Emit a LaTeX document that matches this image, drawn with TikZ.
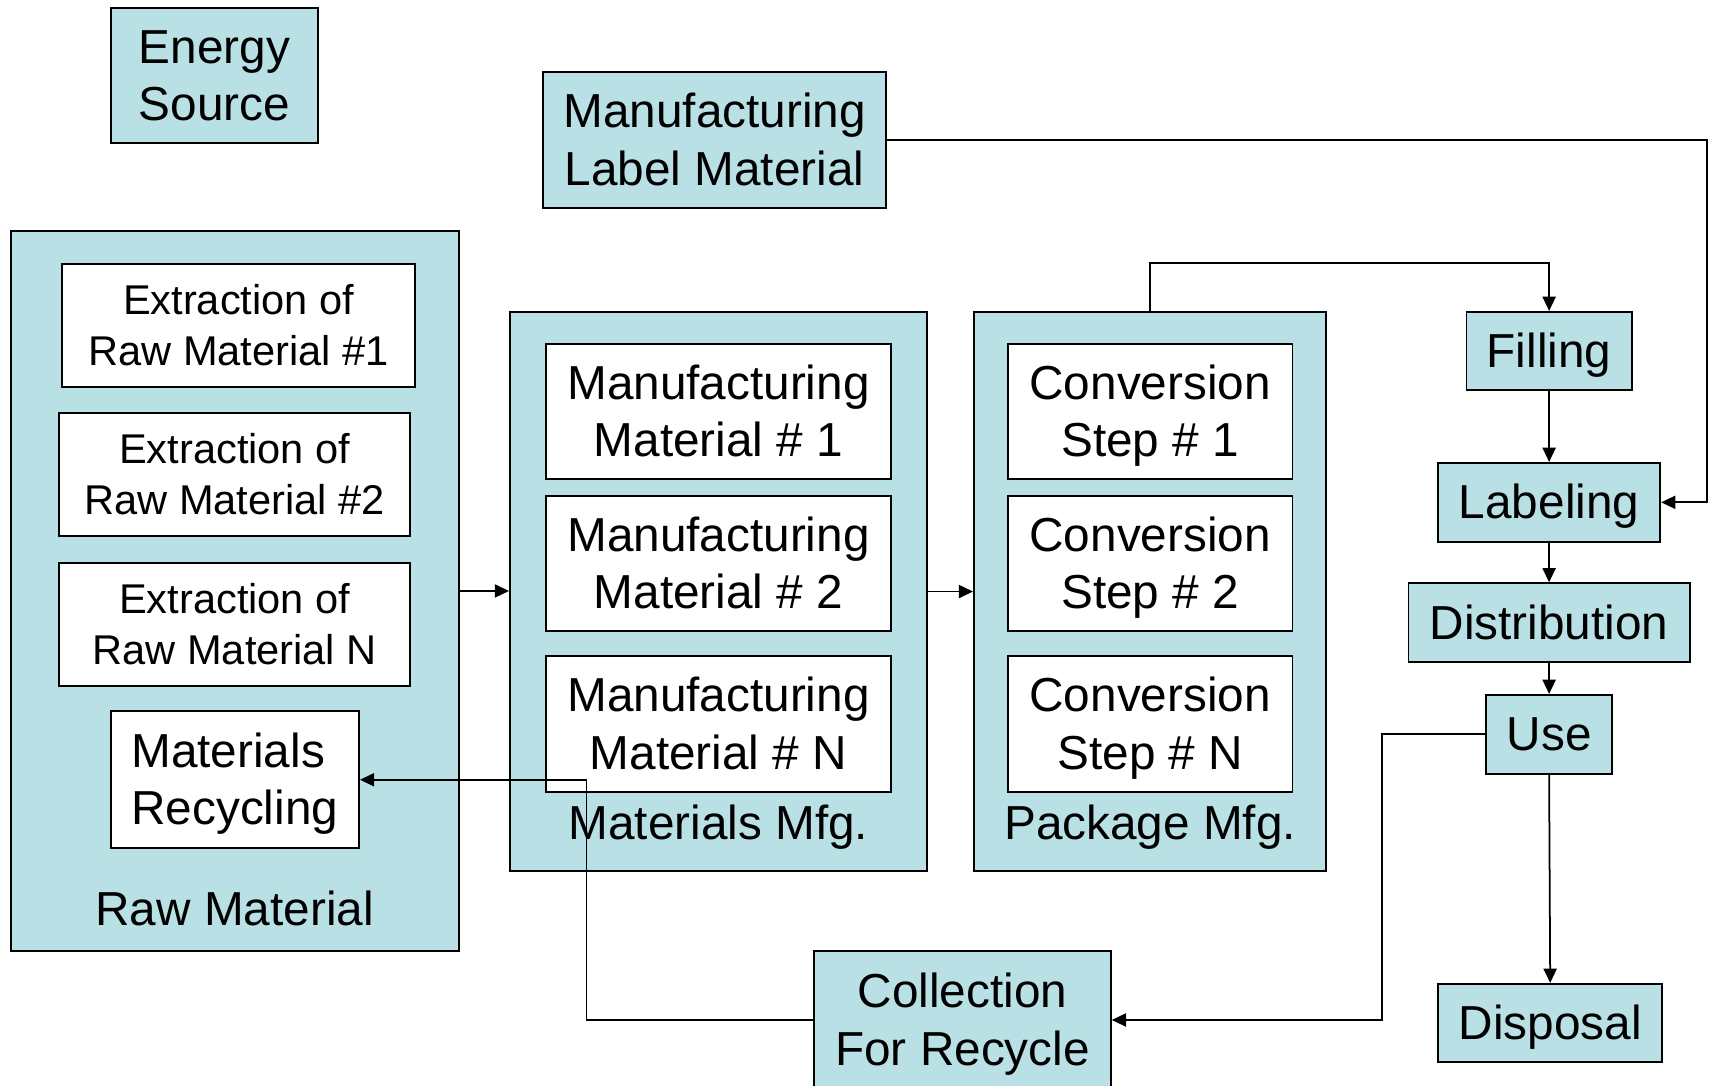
\documentclass[tikz,border=0pt]{standalone}
\usepackage{fontspec}
\setmainfont{Liberation Sans}
\usetikzlibrary{arrows.meta}
\definecolor{pale}{RGB}{185,224,228}
\newcommand\st{\rule[-0.212em]{0pt}{1.117em}}
\tikzset{
  bigfont/.style={font=\fontsize{43.6}{52.3}\selectfont},
  smallfont/.style={font=\fontsize{38}{47}\selectfont},
  bluebox/.style={draw=black, line width=1.8pt, fill=pale, inner sep=0pt, align=center, bigfont},
  whitebox/.style={draw=black, line width=1.8pt, fill=white, inner sep=0pt, align=center, bigfont},
  container/.style={draw=black, line width=1.8pt, fill=pale, inner sep=0pt},
  arr/.style={draw=black, line width=1.6pt, -{Triangle[length=13pt,width=12pt]}},
  tag/.style={inner sep=0pt, bigfont}
}
\begin{document}
\begin{tikzpicture}[x=1pt,y=-1pt]
\useasboundingbox (0,0) rectangle (1568,992);
\clip (0,0) rectangle (1568,992);
\fill[white] (0,0) rectangle (1568,992);

% top boxes
\node[bluebox, minimum width=190pt, minimum height=124pt] (energy) at (196,69) {\st Energy\\\st Source};
\node[bluebox, minimum width=314pt, minimum height=124pt] (lbm) at (653,128) {\st Manufacturing\\\st Label Material};

% containers
\node[container, minimum width=409pt, minimum height=658pt] (raw) at (214.5,540) {};
\node[container, minimum width=381pt, minimum height=511pt] (mat) at (656.5,540.5) {};
\node[container, minimum width=322pt, minimum height=511pt] (pkg) at (1051,540.5) {};

% raw material content
\node[whitebox, smallfont, minimum width=322pt, minimum height=113pt] (ex1) at (218,297.5) {\st Extraction of\\\st Raw Material \#1};
\node[whitebox, smallfont, minimum width=321pt, minimum height=113pt] (ex2) at (214.5,433.5) {\st Extraction of\\\st Raw Material \#2};
\node[whitebox, smallfont, minimum width=321pt, minimum height=113pt] (exn) at (214.5,570.5) {\st Extraction of\\\st Raw Material N};
\node[whitebox, align=left, minimum width=227pt, minimum height=125pt] (recyc) at (214.5,712.5) {\st Materials\\\st Recycling};
\node[tag] (rawlab) at (214.5,831) {\st Raw Material};

% materials mfg
\node[whitebox, minimum width=315pt, minimum height=124pt] (m1) at (656.5,376) {\st Manufacturing\\\st Material \# 1};
\node[whitebox, minimum width=315pt, minimum height=124pt] (m2) at (656.5,515) {\st Manufacturing\\\st Material \# 2};
\node[whitebox, minimum width=315pt, minimum height=124pt] (mn) at (656.5,661.5) {\st Manufacturing\\\st Material \# N};
\node[tag] (matlab) at (656.5,752) {\st Materials Mfg.};

% package mfg
\node[whitebox, minimum width=260pt, minimum height=124pt] (c1) at (1051,376) {\st Conversion\\\st Step \# 1};
\node[whitebox, minimum width=260pt, minimum height=124pt] (c2) at (1051,515) {\st Conversion\\\st Step \# 2};
\node[whitebox, minimum width=260pt, minimum height=124pt] (cn) at (1051,661.5) {\st Conversion\\\st Step \# N};
\node[tag] (pkglab) at (1051,752) {\st Package Mfg.};

% right column
\node[bluebox, minimum width=151pt, minimum height=71pt] (fill) at (1415.5,320.5) {\st Filling};
\node[bluebox, minimum width=203pt, minimum height=72pt] (labl) at (1415.5,459) {\st Labeling};
\node[bluebox, minimum width=257pt, minimum height=72pt] (dist) at (1415.5,569) {\st Distribution};
\node[bluebox, minimum width=115pt, minimum height=72pt] (use) at (1415.5,671) {\st Use};
\node[bluebox, minimum width=205pt, minimum height=71pt] (disp) at (1416.5,934.5) {\st Disposal};
\node[bluebox, minimum width=271pt, minimum height=126pt] (coll) at (879.5,932) {\st Collection\\\st For Recycle};

% connectors
\coordinate (rc) at (1560,128);
\coordinate (ux) at (1263,0);
\coordinate (cx) at (536,0);
\draw[arr] (raw.east) -- (raw.east -| mat.west);
\draw[arr] (mat.east) -- (mat.east -| pkg.west);
\draw[arr] (pkg.north) -- ++(0,-44) -| (fill.north);
\draw[arr] (fill.south) -- (labl.north);
\draw[arr] (lbm.east) -- (rc) |- (labl.east);
\draw[arr] (labl.south) -- (dist.north);
\draw[arr] (dist.south) -- (use.north);
\draw[arr] (use.south) -- (disp.north);
\draw[arr] (use.west) -| (ux |- coll.east) -- (coll.east);
\draw[arr] (coll.west) -| (cx |- recyc.east) -- (recyc.east);
\end{tikzpicture}
\end{document}
